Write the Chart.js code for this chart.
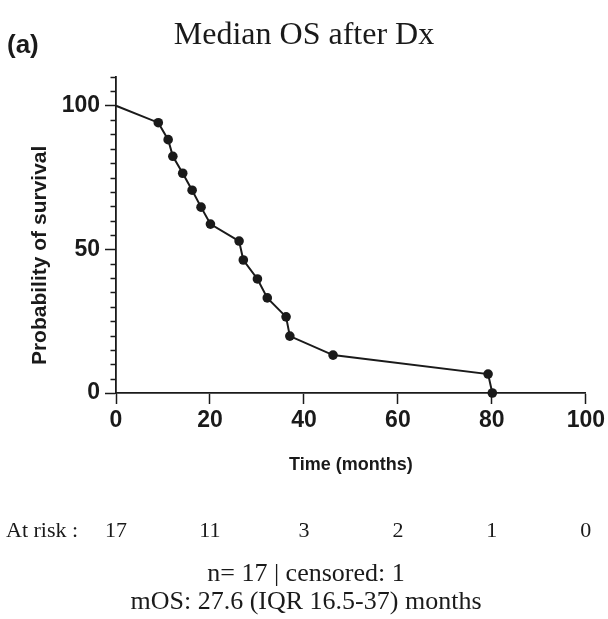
<!DOCTYPE html>
<html>
<head>
<meta charset="utf-8">
<script src="https://cdn.jsdelivr.net/npm/chart.js@4.4.1/dist/chart.umd.min.js"></script>
<style>
  html, body { margin: 0; padding: 0; background: #fff; }
</style>
</head>
<body>
<canvas id="km" width="608" height="619"></canvas>
<script>
// survival curve
const months   = [0, 9, 11.1, 12.1, 14.2, 16.2, 18.1, 20.1, 26.2, 27.1, 30.1, 32.2, 36.2, 37.0, 46.2, 79.2, 80.1]
const survival = [100, 94.1, 88.2, 82.4, 76.5, 70.6, 64.7, 58.8, 52.9, 46.3, 39.7, 33.1, 26.5, 19.8, 13.2, 6.6, 0]

const xTicks = [0, 20, 40, 60, 80, 100]
const atRisk = [17, 11, 3, 2, 1, 0]
const yMajor = [0, 50, 100]

const titleText = "Median OS after Dx"
const footerLines = ["n= 17 | censored: 1", "mOS: 27.6 (IQR 16.5-37) months"]

const ink = "#1a1a1a"
const sans = '"Liberation Sans", Arial, sans-serif'
const serif = '"Liberation Serif", "Times New Roman", serif'

const points = months.map((m, i) => ({ x: m, y: survival[i] }))

// extra text + minor ticks, drawn after the chart
const extras = {
    id: "extras",
    afterDraw(chart) {
        const ctx = chart.ctx
        const xs = chart.scales.x
        const ys = chart.scales.y
        ctx.save()

        // minor y ticks every 5
        ctx.strokeStyle = ink
        ctx.lineWidth = 1.5
        for (let v = 0; v <= ys.max; v += 5) {
            if (yMajor.includes(v)) continue
            const py = Math.round(ys.getPixelForValue(v)) + 0.5
            ctx.beginPath()
            ctx.moveTo(xs.left - 5.5, py)
            ctx.lineTo(xs.left, py)
            ctx.stroke()
        }

        ctx.fillStyle = ink
        ctx.textAlign = "left"
        ctx.textBaseline = "middle"
        ctx.font = "bold 26px " + sans
        ctx.fillText("(a)", 7, 46)

        ctx.textAlign = "center"
        ctx.font = "32px " + serif
        ctx.fillText(titleText, 304, 36)

        // y axis title
        ctx.save()
        ctx.translate(40, (ys.getPixelForValue(0) + ys.getPixelForValue(100)) / 2 + 6)
        ctx.rotate(-Math.PI / 2)
        ctx.font = "bold 21px " + sans
        ctx.fillText("Probability of survival", 0, 0)
        ctx.restore()

        // number at risk row
        ctx.font = "22px " + serif
        ctx.textAlign = "left"
        ctx.fillText("At risk :", 6, 531)
        ctx.textAlign = "center"
        xTicks.forEach((t, i) => {
            ctx.fillText(String(atRisk[i]), xs.getPixelForValue(t), 531)
        })

        ctx.font = "26px " + serif
        ctx.fillText(footerLines[0], 306, 574)
        ctx.fillText(footerLines[1], 306, 602)

        ctx.restore()
    }
}

new Chart(document.getElementById("km"), {
    type: "scatter",
    data: {
        datasets: [{
            data: points,
            showLine: true,
            clip: false,
            borderColor: ink,
            borderWidth: 2,
            backgroundColor: ink,
            pointRadius: c => c.dataIndex === 0 ? 0 : 4.8,
            pointHoverRadius: c => c.dataIndex === 0 ? 0 : 4.8,
            pointBorderWidth: 0
        }]
    },
    options: {
        responsive: false,
        animation: false,
        devicePixelRatio: 1,
        layout: { padding: { left: 28, right: 22, top: 77, bottom: 143 } },
        plugins: {
            legend: { display: false },
            tooltip: { enabled: false }
        },
        scales: {
            x: {
                type: "linear",
                min: 0,
                max: 100,
                afterFit: s => { s.height = 83 },
                ticks: {
                    stepSize: 20,
                    maxRotation: 0,
                    padding: 3,
                    color: ink,
                    font: { family: sans, size: 23, weight: "bold" }
                },
                grid: { drawOnChartArea: false, tickLength: 11, tickColor: ink, tickWidth: 1.5 },
                border: { color: ink, width: 1.8 },
                title: {
                    display: true,
                    text: "Time (months)",
                    color: ink,
                    padding: 0,
                    font: { family: sans, size: 18, weight: "bold" }
                }
            },
            y: {
                min: 0,
                max: 110,
                afterFit: s => { s.width = 88 },
                ticks: {
                    stepSize: 5,
                    autoSkip: false,
                    padding: 5,
                    color: ink,
                    font: { family: sans, size: 23, weight: "bold" },
                    callback: v => yMajor.includes(v) ? String(v) : ""
                },
                grid: {
                    drawOnChartArea: false,
                    tickLength: 11,
                    tickWidth: 1.5,
                    tickColor: c => (c.tick && yMajor.includes(c.tick.value)) ? ink : "rgba(0,0,0,0)"
                },
                border: { color: ink, width: 1.8 }
            }
        }
    },
    plugins: [extras]
})
</script>
</body>
</html>
